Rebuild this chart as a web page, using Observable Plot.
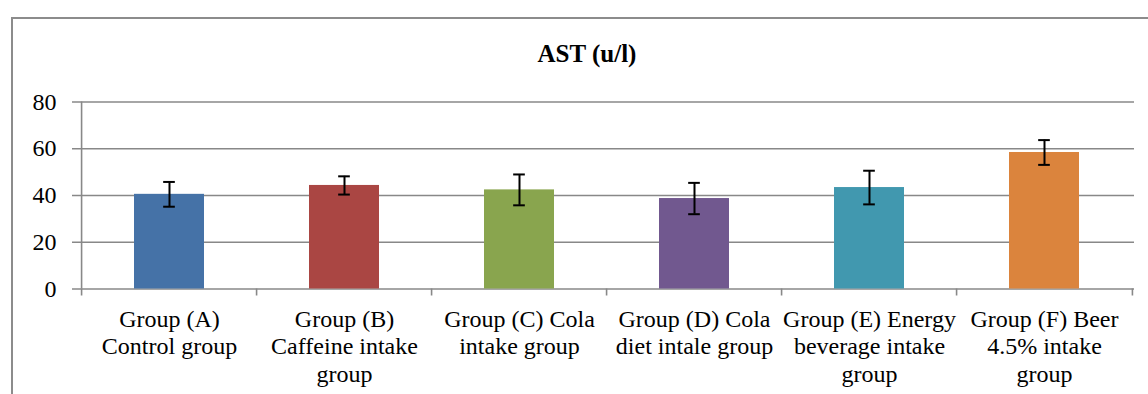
<!DOCTYPE html>
<html>
<head>
<meta charset="utf-8">
<script src="https://cdn.jsdelivr.net/npm/d3@7"></script>
<script src="https://cdn.jsdelivr.net/npm/@observablehq/plot@0.6"></script>
<style>
  html, body { margin: 0; padding: 0; background: #fff; overflow: hidden; width: 1148px; height: 394px; }
  #frame { position: absolute; left: 11px; top: 17px; width: 1300px; height: 500px;
           border-left: 2px solid #8c8c8c; border-top: 2px solid #8c8c8c; box-sizing: border-box; }
  #title { position: absolute; left: 587px; top: 41px; transform: translateX(-50%);
           font-family: "Times New Roman", "Liberation Serif", Times, "DejaVu Serif", serif; font-weight: bold; font-size: 25px; line-height: 25px;
           white-space: nowrap; color: #000; }
  #chart { position: absolute; left: 0; top: 0; }
  #chart svg text { font-family: "Times New Roman", "Liberation Serif", Times, "DejaVu Serif", serif !important; }
</style>
</head>
<body>
<div id="frame"></div>
<div id="title">AST (u/l)</div>
<div id="chart"></div>
<script>
const groups = [
  "Group (A)\nControl group",
  "Group (B)\nCaffeine intake\ngroup",
  "Group (C) Cola\nintake group",
  "Group (D) Cola\ndiet intale group",
  "Group (E) Energy\nbeverage intake\ngroup",
  "Group (F) Beer\n4.5% intake\ngroup"
];
const means = [40.5, 44.3, 42.4, 38.7, 43.4, 58.4];
const errors = [5.3, 3.9, 6.6, 6.7, 7.2, 5.3];
const colors = ["#4572A7", "#AA4643", "#89A54E", "#71588F", "#4198AF", "#DB843D"];
const yTicks = [0, 20, 40, 60, 80];

const data = groups.map((g, i) => ({group: g, mean: means[i], lo: means[i] - errors[i], hi: means[i] + errors[i]}));

const W = 1148, H = 394;
const mL = 79, mR = 14, mT = 101.5, mB = 105.5;
const padInner = 0.6;
const step = (W - mL - mR) / groups.length;
const bw = step * (1 - padInner);
const capW = 12;
const serif = "'Times New Roman', 'Liberation Serif', Times, 'DejaVu Serif', serif";

const plot = Plot.plot({
  width: W, height: H,
  marginLeft: mL, marginRight: mR, marginTop: mT, marginBottom: mB,
  style: {fontFamily: serif, fontSize: "24px", color: "#000", background: "transparent"},
  x: {domain: groups, paddingInner: padInner, paddingOuter: padInner / 2},
  y: {domain: [0, 80]},
  color: {domain: groups, range: colors},
  marks: [
    Plot.ruleY(yTicks, {stroke: "#888", strokeWidth: 1.6, insetLeft: -7}),
    Plot.barY(data, {x: "group", y: "mean", fill: "group"}),
    Plot.ruleX(groups, {x: d => d, dx: -step / 2, y1: 0, y2: 0, insetBottom: -7, stroke: "#888", strokeWidth: 1.6}),
    Plot.ruleX(groups.slice(-1), {x: d => d, dx: step / 2, y1: 0, y2: 0, insetBottom: -7, stroke: "#888", strokeWidth: 1.6}),
    Plot.ruleX(groups.slice(0, 1), {x: d => d, dx: -step / 2, y1: 0, y2: 80, stroke: "#888", strokeWidth: 1.6}),
    Plot.ruleX(data, {x: "group", y1: "lo", y2: "hi", stroke: "#000", strokeWidth: 2}),
    Plot.tickY(data, {x: "group", y: "hi", stroke: "#000", strokeWidth: 2, insetLeft: (bw - capW) / 2, insetRight: (bw - capW) / 2}),
    Plot.tickY(data, {x: "group", y: "lo", stroke: "#000", strokeWidth: 2, insetLeft: (bw - capW) / 2, insetRight: (bw - capW) / 2}),
    Plot.axisY(yTicks, {tickSize: 0, tickPadding: 23, label: null, fontSize: 24, fontFamily: serif}),
    Plot.axisX({tickSize: 0, tickPadding: 18, label: null, fontSize: 24, lineHeight: 1.15, fontFamily: serif})
  ]
});
document.getElementById("chart").appendChild(plot);
</script>
</body>
</html>
